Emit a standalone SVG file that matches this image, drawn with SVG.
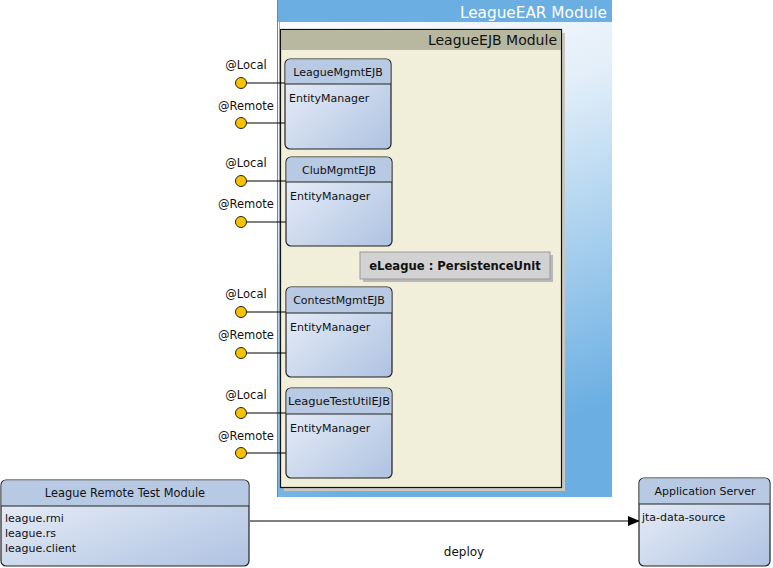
<svg xmlns="http://www.w3.org/2000/svg" width="773" height="568" viewBox="0 0 773 568">
<defs>
<linearGradient id="earG" x1="0" y1="0" x2="0.25" y2="1">
<stop offset="0" stop-color="#ffffff"/>
<stop offset="0.35" stop-color="#e4eff9"/>
<stop offset="1" stop-color="#6aaee2"/>
</linearGradient>
<linearGradient id="nodeG" x1="0" y1="0" x2="1" y2="1">
<stop offset="0" stop-color="#eef2fa"/>
<stop offset="1" stop-color="#aec2e1"/>
</linearGradient>
<marker id="arr" markerWidth="12" markerHeight="10" refX="11" refY="5" orient="auto" markerUnits="userSpaceOnUse">
<path d="M0,0 L12,5 L0,10 Z" fill="#000"/>
</marker>
</defs>
<style>
text{font-family:"DejaVu Sans","Liberation Sans",sans-serif;fill:#111}
.n{fill:url(#nodeG);stroke:#222;stroke-width:1.2}
.hd{fill:#b8c9e4}
.t{font-size:11px}
.s{font-size:11.5px}
.port{fill:#f7c300;stroke:#222;stroke-width:1}
.pl{stroke:#000;stroke-width:1.2}
</style>
<g id="ear">
<rect x="277" y="0" width="335" height="497" fill="url(#earG)"/>
<rect x="277" y="0" width="335" height="22" fill="#6aaee2"/>
<line x1="277.5" y1="0" x2="277.5" y2="497" stroke="#4a8fd0" stroke-width="1"/>
<line x1="279.5" y1="22" x2="279.5" y2="497" stroke="#7ab7e6" stroke-width="1"/>
<text x="607" y="18" font-size="15.3" text-anchor="end" style="fill:#fff">LeagueEAR Module</text>
</g>
<g id="ejb">
<rect x="284" y="33" width="281" height="458" fill="#c8c8c0"/>
<rect x="280.5" y="29.5" width="281" height="458" fill="#f1eed9" stroke="#111" stroke-width="1.2"/>
<rect x="281" y="30" width="280" height="20" fill="#b8b8a0"/>
<text x="557" y="45" font-size="14" text-anchor="end">LeagueEJB Module</text>
</g>
<g id="pu">
<rect x="363" y="255" width="190" height="27" fill="#b8b8b8"/>
<rect x="360" y="252" width="190" height="27" fill="#d2d2d2" stroke="#999" stroke-width="1"/>
<text x="455" y="270" font-size="11.6" font-weight="bold" text-anchor="middle">eLeague : PersistenceUnit</text>
</g>
<g id="connectors">
<line class="pl" x1="241" y1="83" x2="285" y2="83"/>
<line class="pl" x1="241" y1="123" x2="285" y2="123"/>
<line class="pl" x1="241" y1="181" x2="286" y2="181"/>
<line class="pl" x1="241" y1="222" x2="286" y2="222"/>
<line class="pl" x1="241" y1="312" x2="286" y2="312"/>
<line class="pl" x1="241" y1="353" x2="286" y2="353"/>
<line class="pl" x1="241" y1="413" x2="286" y2="413"/>
<line class="pl" x1="241" y1="453" x2="286" y2="453"/>
<line x1="250" y1="521" x2="639" y2="521" stroke="#000" stroke-width="1.2" marker-end="url(#arr)"/>
<text x="464" y="556" font-size="12" text-anchor="middle">deploy</text>
</g>
<g id="ports">
<text x="246" y="69" class="s" text-anchor="middle">@Local</text>
<text x="246" y="110" class="s" text-anchor="middle">@Remote</text>
<circle class="port" cx="241" cy="83" r="5.5"/>
<circle class="port" cx="241" cy="123" r="5.5"/>
<text x="246" y="167" class="s" text-anchor="middle">@Local</text>
<text x="246" y="208" class="s" text-anchor="middle">@Remote</text>
<circle class="port" cx="241" cy="181" r="5.5"/>
<circle class="port" cx="241" cy="222" r="5.5"/>
<text x="246" y="298" class="s" text-anchor="middle">@Local</text>
<text x="246" y="339" class="s" text-anchor="middle">@Remote</text>
<circle class="port" cx="241" cy="312" r="5.5"/>
<circle class="port" cx="241" cy="353" r="5.5"/>
<text x="246" y="399" class="s" text-anchor="middle">@Local</text>
<text x="246" y="440" class="s" text-anchor="middle">@Remote</text>
<circle class="port" cx="241" cy="413" r="5.5"/>
<circle class="port" cx="241" cy="453" r="5.5"/>
</g>
<g id="LeagueMgmtEJB">
<rect class="n" x="285" y="59" width="106" height="90" rx="5"/>
<path class="hd" d="M290.6,59.6 H385.4 A4.4,4.4 0 0 1 390.4,64.6 V84 H285.6 V64.6 A4.4,4.4 0 0 1 290.6,59.6 Z"/>
<line x1="285" y1="84" x2="391" y2="84" stroke="#222" stroke-width="1.2"/>
<text x="338" y="76" class="t" text-anchor="middle">LeagueMgmtEJB</text>
<text x="289" y="102" class="t">EntityManager</text>
</g>
<g id="ClubMgmtEJB">
<rect class="n" x="286" y="157" width="106" height="89" rx="5"/>
<path class="hd" d="M291.6,157.6 H386.4 A4.4,4.4 0 0 1 391.4,162.6 V182 H286.6 V162.6 A4.4,4.4 0 0 1 291.6,157.6 Z"/>
<line x1="286" y1="182" x2="392" y2="182" stroke="#222" stroke-width="1.2"/>
<text x="339" y="174" class="t" text-anchor="middle">ClubMgmtEJB</text>
<text x="290" y="200" class="t">EntityManager</text>
</g>
<g id="ContestMgmtEJB">
<rect class="n" x="286" y="287" width="106" height="90" rx="5"/>
<path class="hd" d="M291.6,287.6 H386.4 A4.4,4.4 0 0 1 391.4,292.6 V313 H286.6 V292.6 A4.4,4.4 0 0 1 291.6,287.6 Z"/>
<line x1="286" y1="313" x2="392" y2="313" stroke="#222" stroke-width="1.2"/>
<text x="339" y="304" class="t" text-anchor="middle">ContestMgmtEJB</text>
<text x="290" y="331" class="t">EntityManager</text>
</g>
<g id="LeagueTestUtilEJB">
<rect class="n" x="286" y="388" width="106" height="90" rx="5"/>
<path class="hd" d="M291.6,388.6 H386.4 A4.4,4.4 0 0 1 391.4,393.6 V414 H286.6 V393.6 A4.4,4.4 0 0 1 291.6,388.6 Z"/>
<line x1="286" y1="414" x2="392" y2="414" stroke="#222" stroke-width="1.2"/>
<text x="339" y="405" class="t" text-anchor="middle" textLength="102" lengthAdjust="spacingAndGlyphs">LeagueTestUtilEJB</text>
<text x="290" y="432" class="t">EntityManager</text>
</g>
<g id="LeagueRemoteTestModule">
<rect class="n" x="1" y="480" width="248" height="86" rx="5"/>
<path class="hd" d="M6.6,480.6 H243.4 A4.4,4.4 0 0 1 248.4,485.6 V506 H1.6 V485.6 A4.4,4.4 0 0 1 6.6,480.6 Z"/>
<line x1="1" y1="506" x2="249" y2="506" stroke="#222" stroke-width="1.2"/>
<text x="125" y="497" font-size="11.4" text-anchor="middle">League Remote Test Module</text>
<text x="5" y="522" class="t">league.rmi</text>
<text x="5" y="537" class="t">league.rs</text>
<text x="5" y="552" class="t">league.client</text>
</g>
<g id="ApplicationServer">
<rect class="n" x="639" y="478" width="131" height="88" rx="5"/>
<path class="hd" d="M644.6,478.6 H764.4 A4.4,4.4 0 0 1 769.4,483.6 V504 H639.6 V483.6 A4.4,4.4 0 0 1 644.6,478.6 Z"/>
<line x1="639" y1="504" x2="770" y2="504" stroke="#222" stroke-width="1.2"/>
<text x="705" y="495" class="t" text-anchor="middle">Application Server</text>
<text x="642" y="521" class="t">jta-data-source</text>
</g>
</svg>
